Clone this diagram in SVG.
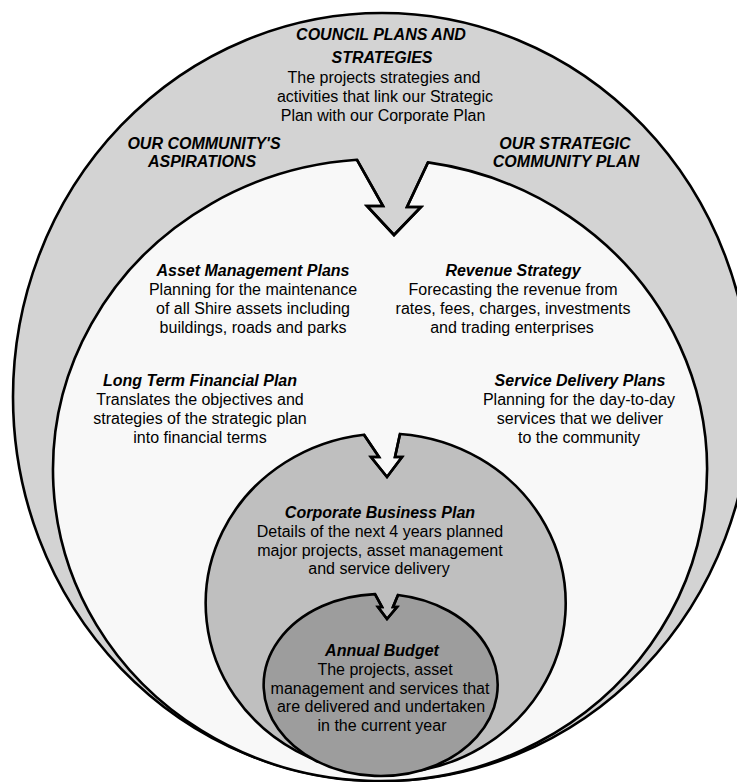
<svg xmlns="http://www.w3.org/2000/svg" width="737" height="782" viewBox="0 0 737 782">
<style>
.ln{stroke:#000;stroke-width:2.6;stroke-linejoin:miter}
.arw{fill:none;stroke:#000;stroke-width:2.6;stroke-linejoin:miter}
text{font-family:"Liberation Sans",Arial,sans-serif;font-size:16px;fill:#000;text-anchor:middle}
.t{font-weight:bold;font-style:italic}
</style>
<rect width="737" height="782" fill="#ffffff"/>
<g id="council-plans">
<ellipse class="ln" cx="382" cy="397" rx="369" ry="384" fill="#d3d3d3"/>
<text class="t" x="381" y="40">COUNCIL PLANS AND</text>
<text class="t" x="382" y="63">STRATEGIES</text>
<text x="384" y="83">The projects strategies and</text>
<text x="385" y="102">activities that link our Strategic</text>
<text x="383" y="121">Plan with our Corporate Plan</text>
</g>
<g id="community-aspirations">
<text class="t" x="204" y="149">OUR COMMUNITY'S</text>
<text class="t" x="202" y="167">ASPIRATIONS</text>
</g>
<g id="strategic-community-plan">
<text class="t" x="565" y="149">OUR STRATEGIC</text>
<text class="t" x="566" y="167">COMMUNITY PLAN</text>
</g>
<g id="plans-area">
<path class="ln" fill="#f8f8f8" d="M428 162.4 A327 311 0 1 1 357 159.8 L383 206 L367 206 L394 235 L421 207 L407 207 Z"/>
</g>
<g id="asset-management">
<text class="t" x="253" y="276">Asset Management Plans</text>
<text x="253" y="295">Planning for the maintenance</text>
<text x="253" y="314">of all Shire assets including</text>
<text x="253" y="333">buildings, roads and parks</text>
</g>
<g id="revenue-strategy">
<text class="t" x="513" y="276">Revenue Strategy</text>
<text x="513" y="295">Forecasting the revenue from</text>
<text x="513" y="314">rates, fees, charges, investments</text>
<text x="512" y="333">and trading enterprises</text>
</g>
<g id="long-term-financial-plan">
<text class="t" x="200" y="386">Long Term Financial Plan</text>
<text x="200" y="405">Translates the objectives and</text>
<text x="200" y="424">strategies of the strategic plan</text>
<text x="200" y="443">into financial terms</text>
</g>
<g id="service-delivery-plans">
<text class="t" x="580" y="386">Service Delivery Plans</text>
<text x="579" y="405">Planning for the day-to-day</text>
<text x="580" y="424">services that we deliver</text>
<text x="579" y="443">to the community</text>
</g>
<g id="corporate-business-plan">
<path class="ln" fill="#bfbfbf" d="M400 434 A180 170 0 1 1 364 434.7 L379 457 L371 457 L387 477 L402 457 L395 457 Z"/>
<text class="t" x="380" y="518">Corporate Business Plan</text>
<text x="380" y="537">Details of the next 4 years planned</text>
<text x="380" y="556">major projects, asset management</text>
<text x="379" y="574">and service delivery</text>
</g>
<g id="annual-budget">
<path class="ln" fill="#9d9d9d" d="M398 595 A117 91 0 1 1 375 594.1 L382 607 L378 607 L387 619 L397 607 L393 607 Z"/>
<text class="t" x="382" y="656">Annual Budget</text>
<text x="385" y="675">The projects, asset</text>
<text x="380" y="694">management and services that</text>
<text x="381" y="712">are delivered and undertaken</text>
<text x="382" y="731">in the current year</text>
</g>
<g id="connectors">
<polyline class="arw" points="357,159.8 383,206 367,206 394,235 421,207 407,207 428,162.4"/>
<polyline class="arw" points="364,434.7 379,457 371,457 387,477 402,457 395,457 400,434"/>
<polyline class="arw" points="375,594.1 382,607 378,607 387,619 397,607 393,607 398,595"/>
</g>
</svg>
